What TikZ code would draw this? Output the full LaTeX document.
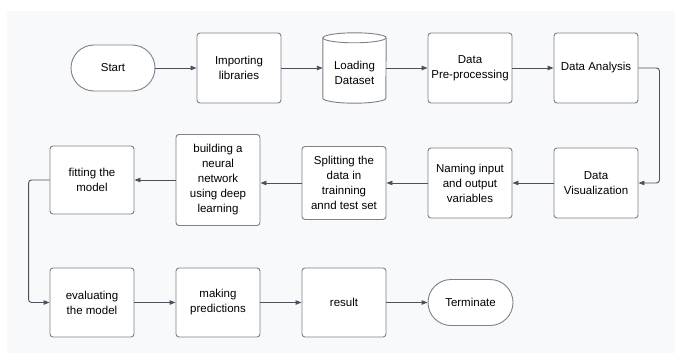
\documentclass[tikz,border=0pt]{standalone}
\usepackage{fontspec}
\setmainfont{Liberation Sans}
\usetikzlibrary{arrows.meta}
\definecolor{bgc}{HTML}{F8F9FB}
\definecolor{bordc}{HTML}{7D8189}
\definecolor{arrc}{HTML}{4A515E}
\begin{document}
\begin{tikzpicture}[x=1pt,y=-1pt,
  every node/.style={font=\fontsize{11.5}{15}\selectfont, text=black, align=center, inner sep=0pt},
  box/.style={draw=bordc, line width=0.9pt, fill=white, rounded corners=3pt, minimum width=84pt},
  term/.style={draw=bordc, line width=0.9pt, fill=white, rounded corners=23pt, minimum width=84pt, minimum height=46pt},
  flow/.style={draw=arrc, line width=0.9pt, -{Triangle[length=6pt,width=4.5pt]}, rounded corners=3pt}]
\fill[white] (0,0) rectangle (675,353);
\fill[bgc] (7,11) rectangle (675,353);
% row 1
\node[term] (start) at (113,68) {Start};
\node[box, minimum height=70pt] (imp) at (239,68) {Importing\\libraries};
\node[minimum width=63pt, minimum height=70pt] (load) at (354.5,68) {};
\filldraw[draw=bordc, line width=0.9pt, fill=white]
  ([yshift=-5pt]load.north west) -- ([yshift=5pt]load.south west)
  arc[start angle=180, end angle=360, x radius=31.5pt, y radius=5pt]
  -- ([yshift=-5pt]load.north east)
  arc[start angle=0, end angle=180, x radius=31.5pt, y radius=5pt] -- cycle;
\draw[draw=bordc, line width=0.9pt] ([yshift=-5pt]load.north west)
  arc[start angle=180, end angle=360, x radius=31.5pt, y radius=5pt];
\node (loadtxt) at (354.5,73) {Loading\\Dataset};
\node[box, minimum height=70pt] (pre) at (470,68) {Data\\Pre-processing};
\node[box, minimum height=70pt] (ana) at (596,68) {Data Analysis};
% row 2
\node[box, minimum height=70pt] (vis) at (596,183) {Data\\Visualization};
\node[box, minimum height=70pt] (name) at (470,183) {Naming input\\and output\\variables};
\node[box, minimum height=73pt] (split) at (344,183) {Splitting the\\data in\\trainning\\annd test set};
\node[box, minimum height=91pt] (build) at (218,180) {building a\\neural\\network\\using deep\\learning};
\node[box, minimum height=68pt] (fit) at (92,180) {fitting the\\model};
% row 3
\node[box, minimum height=69pt] (eval) at (92,302.5) {evaluating\\the model};
\node[box, minimum height=69pt] (pred) at (218,302.5) {making\\predictions};
\node[box, minimum height=69pt] (res) at (344,302.5) {result};
\node[term, minimum width=85pt] (termn) at (470.5,302.5) {Terminate};
% connectors
\draw[flow] (start.east) -- (imp.west);
\draw[flow] (imp.east) -- (load.west);
\draw[flow] (load.east) -- (pre.west);
\draw[flow] (pre.east) -- (ana.west);
\draw[flow] (ana.east) -- ++(21,0) |- (vis.east);
\draw[flow] (vis.west) -- (name.east);
\draw[flow] (name.west) -- (split.east);
\draw[flow] (split.west) -- (split.west -| build.east);
\draw[flow] (build.west) -- (fit.east);
\draw[flow] (fit.west) -- ++(-21,0) |- (eval.west);
\draw[flow] (eval.east) -- (pred.west);
\draw[flow] (pred.east) -- (res.west);
\draw[flow] (res.east) -- (termn.west);
\end{tikzpicture}
\end{document}
